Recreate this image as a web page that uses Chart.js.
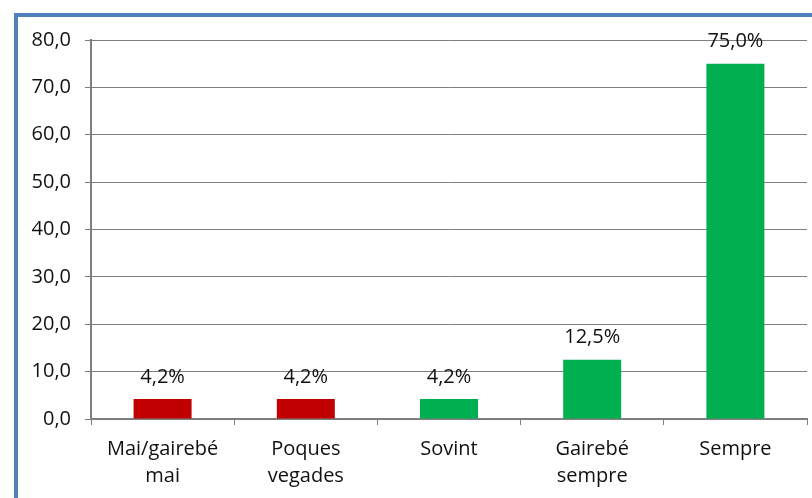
<!DOCTYPE html>
<html>
<head>
<meta charset="utf-8">
<script src="https://cdn.jsdelivr.net/npm/chart.js@4.4.1/dist/chart.umd.min.js"></script>
<style>
  html, body { margin: 0; padding: 0; background: #fff; overflow: hidden; }
  #marc { position: absolute; left: 14px; top: 13px; width: 820px; height: 520px; border: 4px solid #4F81BD; box-sizing: border-box; }
  #wrap { position: absolute; left: 0; top: 0; width: 812px; height: 498px; }
</style>
</head>
<body>
<div id="marc"></div>
<div id="wrap"><canvas id="grafic"></canvas></div>
<script>
// Dades del gràfic
const categories = [['Mai/gairebé', 'mai'], ['Poques', 'vegades'], 'Sovint', ['Gairebé', 'sempre'], 'Sempre'];
const valors = [4.2, 4.2, 4.2, 12.5, 75.0];
const etiquetes = ['4,2%', '4,2%', '4,2%', '12,5%', '75,0%'];
const ticksY = [0, 10, 20, 30, 40, 50, 60, 70, 80];

const colorsBarres = ['#C00000', '#C00000', '#00B050', '#00B050', '#00B050'];
const fontText = { family: '"Open Sans", sans-serif', size: 20, lineHeight: 1.35 };

// Etiquetes damunt de les barres
const etiquetesPlugin = {
  id: 'etiquetes',
  afterDatasetsDraw(chart) {
    const ctx = chart.ctx;
    const meta = chart.getDatasetMeta(0);
    ctx.save();
    ctx.font = '20px "Open Sans", sans-serif';
    ctx.fillStyle = '#111';
    ctx.textAlign = 'center';
    ctx.textBaseline = 'middle';
    meta.data.forEach((bar, i) => {
      ctx.fillText(etiquetes[i], bar.x, bar.y - 22);
    });
    ctx.restore();
  }
};

new Chart(document.getElementById('grafic'), {
  type: 'bar',
  data: {
    labels: categories,
    datasets: [{
      data: valors,
      backgroundColor: colorsBarres,
      borderWidth: 0,
      categoryPercentage: 1,
      barPercentage: 0.405
    }]
  },
  options: {
    responsive: true,
    maintainAspectRatio: false,
    animation: false,
    layout: { padding: { left: 20, top: 40, right: 5, bottom: 0 } },
    plugins: { legend: { display: false }, tooltip: { enabled: false } },
    scales: {
      x: {
        afterFit(scale) { scale.height = 79; },
        grid: { drawOnChartArea: false, drawTicks: true, tickLength: 6, color: '#7f7f7f', offset: true },
        border: { color: '#7f7f7f', width: 2 },
        ticks: { color: '#111', font: fontText, padding: 11 }
      },
      y: {
        min: 0,
        max: 80,
        afterFit(scale) { scale.width = 71; },
        afterBuildTicks(scale) { scale.ticks = ticksY.map(v => ({ value: v })); },
        grid: { color: '#7f7f7f', lineWidth: 1, tickLength: 6 },
        border: { color: '#7f7f7f', width: 2 },
        ticks: {
          color: '#111',
          font: fontText,
          padding: 14,
          callback: v => v.toFixed(1).replace('.', ',')
        }
      }
    }
  },
  plugins: [etiquetesPlugin]
});
</script>
</body>
</html>
